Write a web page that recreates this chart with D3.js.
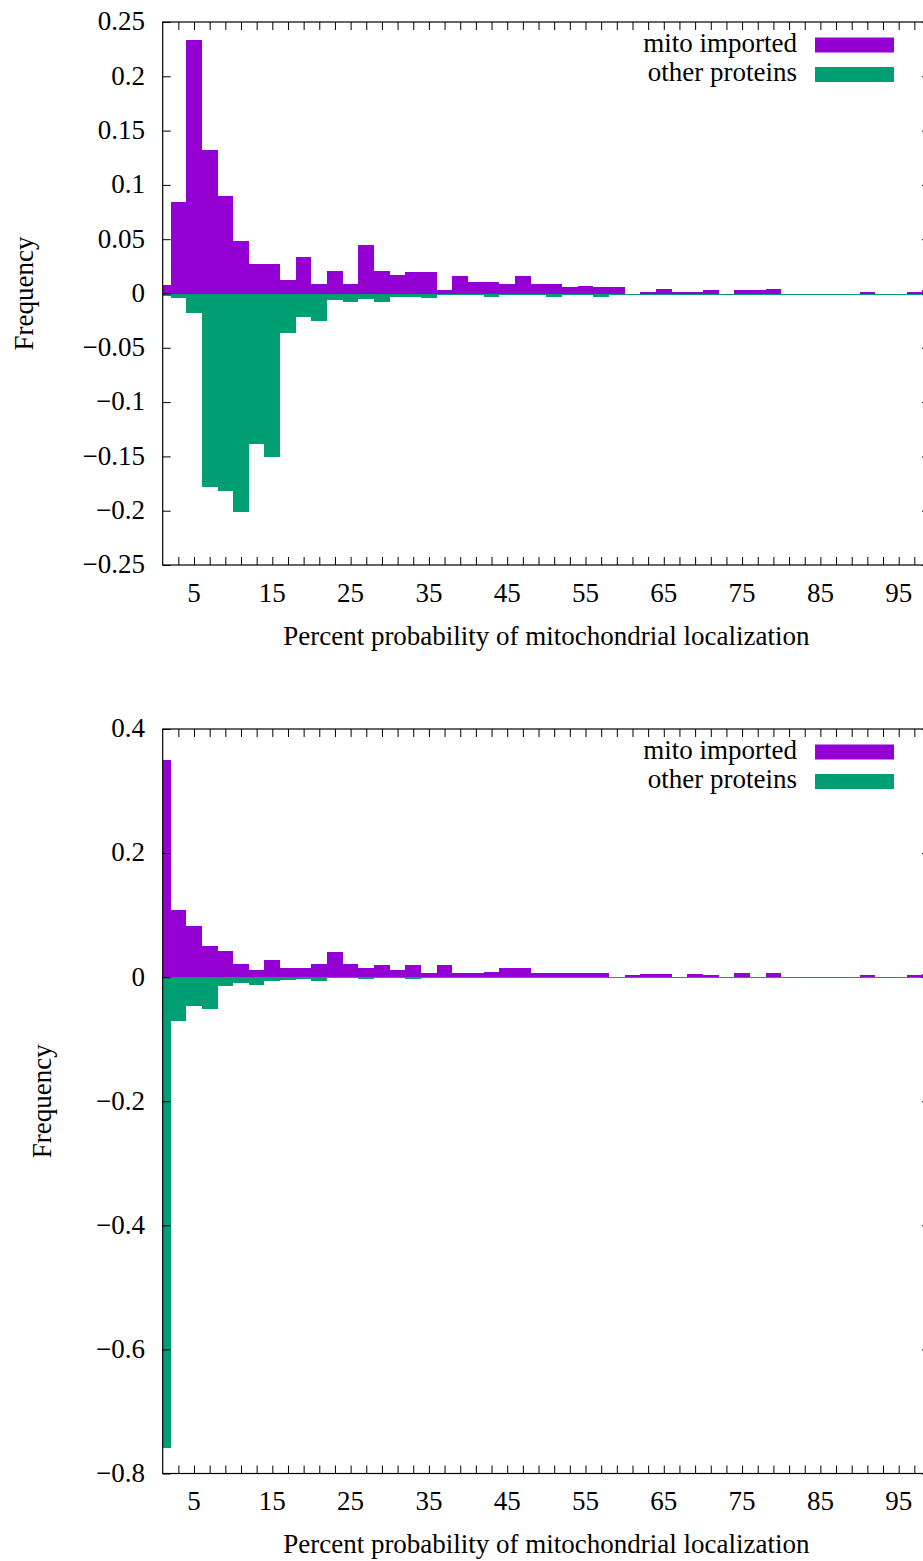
<!DOCTYPE html>
<html>
<head>
<meta charset="utf-8">
<script src="https://cdn.jsdelivr.net/npm/d3@7"></script>
<style>
  body { margin: 0; background: #fff; }
  text { font-family: "Liberation Serif", "Times New Roman", serif; fill: #000; }
</style>
</head>
<body>
<div id="my_dataviz"></div>
<script>
// DATA ===========================================================================================
const binCenters = [1, 3, 5, 7, 9, 11, 13, 15, 17, 19, 21, 23, 25, 27, 29, 31, 33, 35, 37, 39,
  41, 43, 45, 47, 49, 51, 53, 55, 57, 59, 61, 63, 65, 67, 69, 71, 73, 75, 77, 79,
  81, 83, 85, 87, 89, 91, 93, 95, 97, 99]

// panel 1
const topMito = [0.0074, 0.084, 0.233, 0.132, 0.090, 0.048, 0.027, 0.027, 0.012, 0.034,
  0.009, 0.021, 0.009, 0.045, 0.021, 0.017, 0.020, 0.020, 0.003, 0.016,
  0.011, 0.011, 0.009, 0.016, 0.009, 0.009, 0.006, 0.007, 0.0064, 0.0064,
  0, 0.001, 0.0046, 0.001, 0.001, 0.0028, 0, 0.0028, 0.0028, 0.0046,
  0, 0, 0, 0, 0, 0.001, 0, 0, 0.001, 0.0028]
const topOther = [-0.002, -0.0045, -0.018, -0.178, -0.182, -0.201, -0.139, -0.151, -0.0365, -0.022,
  -0.025, -0.0064, -0.0074, -0.0055, -0.0074, -0.0028, -0.0028, -0.0046, -0.0018, -0.0018,
  -0.0009, -0.0028, -0.0009, -0.0018, -0.0018, -0.0028, -0.0009, -0.0009, -0.0028, -0.0009,
  0, 0, 0, 0, 0, 0, 0, 0, 0, 0,
  0, 0, 0, 0, 0, 0, 0, 0, 0, 0]

// panel 2
const botMito = [0.350, 0.1075, 0.082, 0.0495, 0.0414, 0.022, 0.011, 0.027, 0.014, 0.014,
  0.022, 0.040, 0.022, 0.014, 0.020, 0.012, 0.019, 0.0075, 0.019, 0.006,
  0.0075, 0.009, 0.014, 0.014, 0.0075, 0.0075, 0.0075, 0.006, 0.0075, 0,
  0.0027, 0.0043, 0.0043, 0.001, 0.0043, 0.0027, 0, 0.0075, 0, 0.006,
  0, 0, 0, 0, 0, 0.0027, 0, 0, 0.0027, 0.0043]
const botOther = [-0.759, -0.071, -0.047, -0.0516, -0.0145, -0.0097, -0.013, -0.0065, -0.0048, -0.0032,
  -0.0065, -0.001, -0.0016, -0.003, -0.0016, -0.0016, -0.0032, -0.0016, -0.001, -0.0016,
  -0.001, -0.0016, -0.0016, -0.0016, -0.0016, -0.0016, -0.0016, -0.0016, -0.0016, 0,
  -0.002, 0, 0, -0.002, 0, 0, 0, 0, 0, 0,
  0, 0, 0, 0, 0, 0, 0, 0, 0, 0]

const xTickLabels = [5, 15, 25, 35, 45, 55, 65, 75, 85, 95]
const xTicks = [3, 5, 7, 9, 11, 13, 15, 17, 19, 21, 23, 25, 27, 29, 31, 33, 35, 37, 39, 41,
  43, 45, 47, 49, 51, 53, 55, 57, 59, 61, 63, 65, 67, 69, 71, 73, 75, 77, 79, 81,
  83, 85, 87, 89, 91, 93, 95, 97]
const topYTicks = [-0.25, -0.2, -0.15, -0.1, -0.05, 0, 0.05, 0.1, 0.15, 0.2, 0.25]
const botYTicks = [-0.8, -0.6, -0.4, -0.2, 0, 0.2, 0.4]

const seriesNames = ['mito imported', 'other proteins']
const xTitle = 'Percent probability of mitochondrial localization'
const yTitle = 'Frequency'

// SET UP =========================================================================================
const width = 923
const height = 1561
const colors = ['#9400D3', '#009E73']
const fontSize = 27
const tickLen = 8

const svg = d3.select('#my_dataviz')
  .append('svg')
  .attr('width', width)
  .attr('height', height)

const x = d3.scaleLinear()
  .domain([1, 99])
  .range([162.7, 930])

const fmt = d => d === 0 ? '0' : String(+d.toFixed(2)).replace('-', '\u2212')

// PANELS =========================================================================================
function drawPanel(p) {
  const y = d3.scaleLinear().domain(p.yDomain).range([p.bottom, p.top])
  const g = svg.append('g')
  const left = x.range()[0], right = x.range()[1]

  // marks
  const bars = binCenters.map((c, i) => ({c: c, mito: p.mito[i], other: p.other[i]}))
  const bx = d => Math.max(x(d.c - 1), left)
  const bw = d => x(d.c + 1) - bx(d)

  g.selectAll('.mito')
    .data(bars.filter(d => d.mito > 0))
    .join('rect')
    .attr('x', bx)
    .attr('width', bw)
    .attr('y', d => y(d.mito))
    .attr('height', d => y(0) - y(d.mito))
    .attr('fill', colors[0])
    .attr('shape-rendering', 'crispEdges')

  g.selectAll('.other')
    .data(bars)
    .join('rect')
    .attr('x', bx)
    .attr('width', bw)
    .attr('y', y(0))
    .attr('height', d => Math.max(y(d.other) - y(0), 1))
    .attr('fill', colors[1])
    .attr('shape-rendering', 'crispEdges')

  // axes: inward ticks on all four sides
  g.append('g')
    .attr('transform', `translate(0, ${p.bottom})`)
    .call(d3.axisTop(x).tickValues(xTicks).tickSize(tickLen).tickFormat(''))
  g.append('g')
    .attr('transform', `translate(0, ${p.top})`)
    .call(d3.axisBottom(x).tickValues(xTicks).tickSize(tickLen).tickFormat(''))
  g.append('g')
    .attr('transform', `translate(${left}, 0)`)
    .call(d3.axisRight(y).tickValues(p.yTicks).tickSize(tickLen).tickFormat(''))
  g.append('g')
    .attr('transform', `translate(${right}, 0)`)
    .call(d3.axisLeft(y).tickValues(p.yTicks).tickSize(tickLen).tickFormat(''))
  g.selectAll('.domain').remove()
  g.selectAll('.tick line').attr('stroke', '#000').attr('stroke-width', 1)

  g.append('rect')
    .attr('x', left)
    .attr('y', p.top)
    .attr('width', right - left)
    .attr('height', p.bottom - p.top)
    .attr('fill', 'none')
    .attr('stroke', '#000')
    .attr('stroke-width', 1.2)

  // tick labels
  g.selectAll('.ylab')
    .data(p.yTicks)
    .join('text')
    .attr('x', 145)
    .attr('y', d => y(d))
    .attr('dy', '0.31em')
    .attr('text-anchor', 'end')
    .attr('font-size', fontSize)
    .text(fmt)

  g.selectAll('.xlab')
    .data(xTickLabels)
    .join('text')
    .attr('x', d => x(d))
    .attr('y', p.bottom + 36.5)
    .attr('text-anchor', 'middle')
    .attr('font-size', fontSize)
    .text(d => d)

  // titles
  g.append('text')
    .attr('x', (left + right) / 2)
    .attr('y', p.bottom + 79.5)
    .attr('text-anchor', 'middle')
    .attr('font-size', fontSize)
    .text(xTitle)

  g.append('text')
    .attr('transform', `translate(${p.yTitleX}, ${(p.top + p.bottom) / 2}) rotate(-90)`)
    .attr('text-anchor', 'middle')
    .attr('font-size', fontSize)
    .text(yTitle)

  // legend
  seriesNames.forEach((name, i) => {
    const cy = p.top + 23 + i * 29.5
    g.append('text')
      .attr('x', 797)
      .attr('y', cy + 6.5)
      .attr('text-anchor', 'end')
      .attr('font-size', fontSize)
      .text(name)
    g.append('rect')
      .attr('x', 815)
      .attr('y', cy - 7.5)
      .attr('width', 79)
      .attr('height', 15)
      .attr('fill', colors[i])
  })
}

drawPanel({top: 22, bottom: 565, yDomain: [-0.25, 0.25], yTicks: topYTicks,
  mito: topMito, other: topOther, yTitleX: 32.5})
drawPanel({top: 729, bottom: 1473.5, yDomain: [-0.8, 0.4], yTicks: botYTicks,
  mito: botMito, other: botOther, yTitleX: 50.5})
</script>
</body>
</html>
